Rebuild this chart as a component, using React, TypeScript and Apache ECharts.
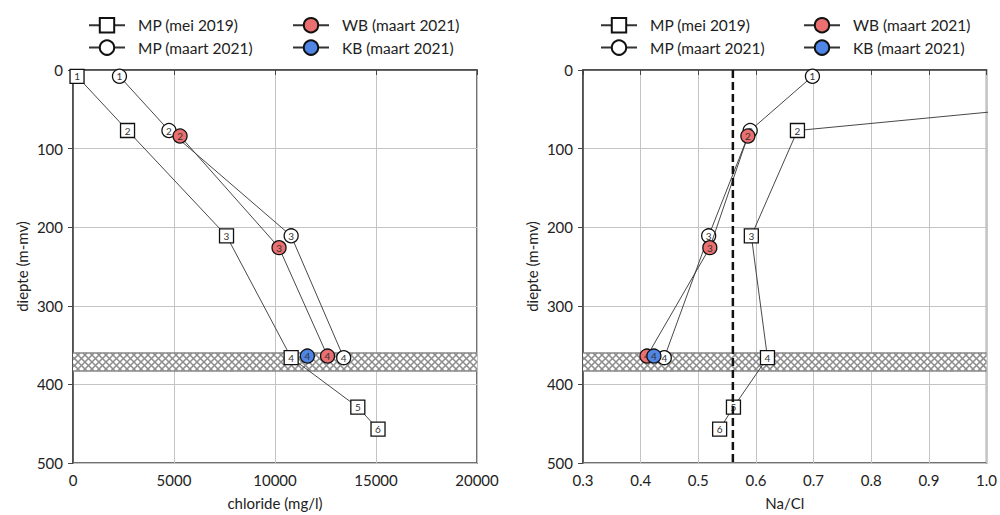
import { useEffect, useRef } from "react";
import * as echarts from "echarts";

// ---- data ----
const depthMP2019 = [8, 77, 211, 366, 429, 457];
const chlorideMP2019 = [200, 2700, 7600, 10800, 14100, 15100];
const naclMP2019 = [1.65, 0.672, 0.592, 0.62, 0.561, 0.537];
const labelsMP2019 = [1, 2, 3, 4, 5, 6];

const depthMP2021 = [8, 77, 211, 366];
const chlorideMP2021 = [2300, 4750, 10800, 13400];
const naclMP2021 = [0.698, 0.59, 0.518, 0.441];
const labelsMP2021 = [1, 2, 3, 4];

const depthWB = [84, 226, 364];
const chlorideWB = [5300, 10200, 12600];
const naclWB = [0.586, 0.52, 0.411];
const labelsWB = [2, 3, 4];

const depthKB = [364];
const chlorideKB = [11600];
const naclKB = [0.423];
const labelsKB = [4];

const bandDepth = [360, 383];
const seawaterNaCl = 0.56;

const depthRange = [0, 500, 100];
const chlorideRange = [0, 20000, 5000];
const naclRange = [0.3, 1.0, 0.1];

const names = ["MP (mei 2019)", "MP (maart 2021)", "WB (maart 2021)", "KB (maart 2021)"];

const FONT = "Lato";

const seriesDefs = [
  { name: names[0], symbol: "rect", fill: "#ffffff", depth: depthMP2019, chl: chlorideMP2019, nacl: naclMP2019, lab: labelsMP2019 },
  { name: names[1], symbol: "circle", fill: "#ffffff", depth: depthMP2021, chl: chlorideMP2021, nacl: naclMP2021, lab: labelsMP2021 },
  { name: names[2], symbol: "circle", fill: "#ea6f70", depth: depthWB, chl: chlorideWB, nacl: naclWB, lab: labelsWB },
  { name: names[3], symbol: "circle", fill: "#4f86e6", depth: depthKB, chl: chlorideKB, nacl: naclKB, lab: labelsKB },
];

function bandSeries(gridIndex: number, xr: number[]) {
  return {
    type: "custom",
    xAxisIndex: gridIndex,
    yAxisIndex: gridIndex,
    silent: true,
    z: 1,
    encode: { x: [0, 2], y: [1, 3] },
    data: [[xr[0], bandDepth[0], xr[1], bandDepth[1]]],
    renderItem: (params: any, api: any) => {
      const cs = params.coordSys;
      const p1 = api.coord([api.value(0), api.value(1)]);
      const p2 = api.coord([api.value(2), api.value(3)]);
      const xL = cs.x;
      const xR = cs.x + cs.width;
      const yt = Math.min(p1[1], p2[1]);
      const yb = Math.max(p1[1], p2[1]);
      const h = yb - yt;
      const step = 7;
      const children: any[] = [];
      const ls = { stroke: "#8e8e8e", lineWidth: 1.6 };
      children.push({ type: "rect", shape: { x: xL, y: yt, width: xR - xL, height: h }, style: { fill: "#ffffff" } });
      for (let c = xL - h; c < xR; c += step) {
        let x1 = c, y1 = yt, x2 = c + h, y2 = yb;
        if (x1 < xL) { y1 = yt + (xL - c); x1 = xL; }
        if (x2 > xR) { y2 = yt + (xR - c); x2 = xR; }
        if (x2 > x1) children.push({ type: "line", shape: { x1, y1, x2, y2 }, style: ls });
        let a1 = c, b1 = yb, a2 = c + h, b2 = yt;
        if (a1 < xL) { b1 = yb - (xL - c); a1 = xL; }
        if (a2 > xR) { b2 = yb - (xR - c); a2 = xR; }
        if (a2 > a1) children.push({ type: "line", shape: { x1: a1, y1: b1, x2: a2, y2: b2 }, style: ls });
      }
      children.push({ type: "line", shape: { x1: xL, y1: yt, x2: xR, y2: yt }, style: { stroke: "#888888", lineWidth: 1.6 } });
      children.push({ type: "line", shape: { x1: xL, y1: yb, x2: xR, y2: yb }, style: { stroke: "#888888", lineWidth: 1.6 } });
      return { type: "group", children };
    },
  };
}

function pointSeries(gridIndex: number, key: "chl" | "nacl") {
  return seriesDefs.map((s, si) => ({
    type: "line",
    name: s.name,
    xAxisIndex: gridIndex,
    yAxisIndex: gridIndex,
    z: 3 + si,
    clip: true,
    symbol: s.symbol,
    symbolSize: 14,
    showAllSymbol: true,
    lineStyle: { color: "#333333", width: 0.9 },
    itemStyle: { color: s.fill, borderColor: "#111111", borderWidth: 1.3 },
    label: {
      show: true,
      position: "inside",
      fontSize: 10,
      fontFamily: FONT,
      color: "#333333",
      formatter: (p: any) => String(p.value[2]),
    },
    data: s[key].map((v: number, i: number) => [v, s.depth[i], s.lab[i]]),
  }));
}

function legend(data: string[], left: number) {
  return {
    data,
    left,
    top: 17,
    padding: 0,
    orient: "vertical",
    itemWidth: 36,
    itemHeight: 18,
    itemGap: 6,
    selectedMode: false,
    textStyle: { fontFamily: FONT, fontSize: 15.5, color: "#222", padding: [0, 0, 0, 8] },
  };
}

function xAxisDef(gridIndex: number, range: number[], name: string, fmt: (v: number) => string) {
  return {
    type: "value",
    gridIndex,
    min: range[0],
    max: range[1],
    interval: range[2],
    name,
    nameLocation: "middle",
    nameGap: 32,
    nameTextStyle: { fontFamily: FONT, fontSize: 15, color: "#222" },
    axisLine: { show: true, lineStyle: { color: "#444", width: 1.5 } },
    axisTick: { show: true, length: 5, lineStyle: { color: "#444" } },
    axisLabel: { fontFamily: FONT, fontSize: 15, color: "#222", margin: 9, formatter: fmt },
    splitLine: { show: true, lineStyle: { color: "#c4c4c4", width: 1 } },
  };
}

function yAxisDef(gridIndex: number) {
  return {
    type: "value",
    gridIndex,
    inverse: true,
    min: depthRange[0],
    max: depthRange[1],
    interval: depthRange[2],
    name: "diepte (m-mv)",
    nameLocation: "middle",
    nameGap: 44,
    nameTextStyle: { fontFamily: FONT, fontSize: 15, color: "#222" },
    axisLine: { show: true, lineStyle: { color: "#444", width: 1.5 } },
    axisTick: { show: true, length: 5, lineStyle: { color: "#444" } },
    axisLabel: { fontFamily: FONT, fontSize: 15, color: "#222", margin: 10 },
    splitLine: { show: true, lineStyle: { color: "#c4c4c4", width: 1 } },
  };
}

export default function App() {
  const ref = useRef<HTMLDivElement>(null);
  useEffect(() => {
    if (!ref.current) return;
    const chart = echarts.init(ref.current, null, { renderer: "svg" });
    chart.setOption({
      animation: false,
      backgroundColor: "#ffffff",
      legend: [
        legend([names[0], names[1]], 88),
        legend([names[2], names[3]], 292),
        legend([names[0], names[1]], 600),
        legend([names[2], names[3]], 803),
      ],
      grid: [
        { left: 73, top: 70, width: 404, height: 394, show: true, borderColor: "#444", borderWidth: 1.5, backgroundColor: "transparent" },
        { left: 583, top: 70, width: 405, height: 394, show: true, borderColor: "#444", borderWidth: 1.5, backgroundColor: "transparent" },
      ],
      xAxis: [
        xAxisDef(0, chlorideRange, "chloride (mg/l)", (v: number) => String(v)),
        xAxisDef(1, naclRange, "Na/Cl", (v: number) => v.toFixed(1)),
      ],
      yAxis: [yAxisDef(0), yAxisDef(1)],
      series: [
        bandSeries(0, [chlorideRange[0], chlorideRange[1]]),
        bandSeries(1, [naclRange[0], naclRange[1]]),
        ...pointSeries(0, "chl"),
        ...pointSeries(1, "nacl"),
        {
          type: "line",
          name: "seawater",
          xAxisIndex: 1,
          yAxisIndex: 1,
          z: 20,
          symbol: "none",
          silent: true,
          lineStyle: { color: "#111", width: 2.5, type: [8, 4] },
          data: [[seawaterNaCl, depthRange[0]], [seawaterNaCl, depthRange[1]]],
        },
      ],
    });
    return () => chart.dispose();
  }, []);
  return <div ref={ref} style={{ position: "fixed", left: 0, top: 0, width: 1000, height: 515 }} />;
}
